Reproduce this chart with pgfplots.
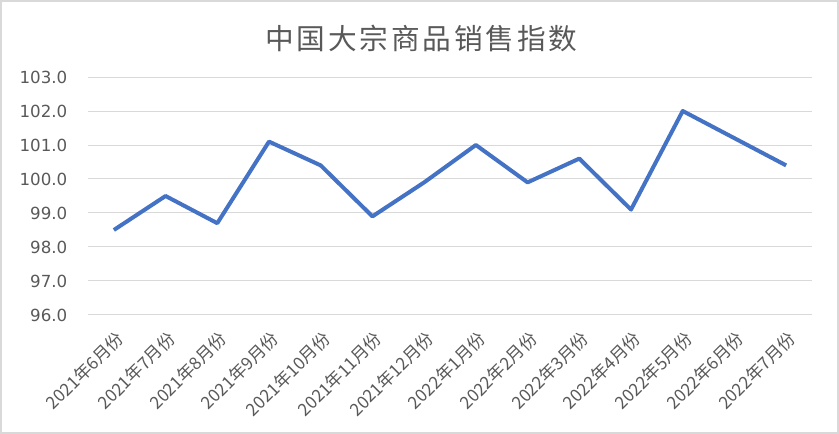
\documentclass[border=0pt]{standalone}
\usepackage{pgfplots}
\pgfplotsset{compat=1.18}
\usepackage{fontspec}
\setmainfont{Noto Sans CJK SC}
\newfontfamily\titlefont[LetterSpace=10]{Noto Sans CJK SC}
\newfontfamily\numfont{DejaVu Sans}
\definecolor{txt}{HTML}{595959}
\definecolor{gridc}{HTML}{D9D9D9}
\definecolor{linec}{HTML}{4472C4}
\begin{document}
\begin{tikzpicture}
\useasboundingbox (0,0) rectangle (629.25pt,325.5pt);
\draw[gridc, line width=1.5pt] (0.75pt,0.75pt) rectangle (628.5pt,324.75pt);
\node[txt, font=\titlefont\fontsize{21.5}{24}\selectfont] at (316pt,297pt) {中国大宗商品销售指数};
\begin{axis}[
  at={(66pt,89.25pt)}, anchor=south west,
  scale only axis, width=543pt, height=178.5pt,
  xmin=-0.5, xmax=13.5, ymin=96, ymax=103,
  xtick={0,...,13}, ytick={96,...,103},
  xticklabels={2021年6月份,2021年7月份,2021年8月份,2021年9月份,2021年10月份,2021年11月份,2021年12月份,2022年1月份,2022年2月份,2022年3月份,2022年4月份,2022年5月份,2022年6月份,2022年7月份},
  axis line style={draw=none},
  major tick length=0pt,
  ymajorgrids, grid style={gridc, line width=0.75pt},
  /pgf/number format/assume math mode=true,
  yticklabel style={txt, font=\numfont\fontsize{12.5}{14}\selectfont, /pgf/number format/.cd, fixed, fixed zerofill, precision=1, /tikz/.cd, xshift=-12pt},
  xticklabel style={txt, font=\fontsize{13}{14}\selectfont, rotate=45, anchor=east, yshift=-14pt, xshift=-4pt},
  clip=false,
]
\addplot[linec, line width=3pt, line join=round] coordinates {
(0,98.5) (1,99.5) (2,98.7) (3,101.1) (4,100.4) (5,98.9) (6,99.9)
(7,101.0) (8,99.9) (9,100.6) (10,99.1) (11,102.0) (12,101.2) (13,100.4)
};
\end{axis}
\end{tikzpicture}
\end{document}
